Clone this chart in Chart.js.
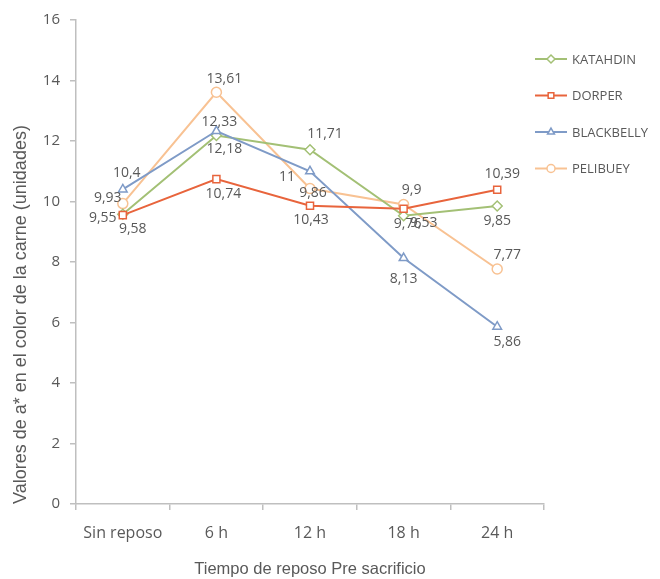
<!DOCTYPE html>
<html>
<head>
<meta charset="utf-8">
<script src="https://cdn.jsdelivr.net/npm/chart.js@4.4.1/dist/chart.umd.min.js"></script>
<style>
  html, body { margin: 0; padding: 0; background: #fff; }
  #wrap { width: 660px; height: 579px; }
</style>
</head>
<body>
<div id="wrap"><canvas id="reposo_chart"></canvas></div>
<script>
const categories = ["Sin reposo", "6 h", "12 h", "18 h", "24 h"];
const katahdin = [9.58, 12.18, 11.71, 9.53, 9.85];
const dorper = [9.55, 10.74, 9.86, 9.76, 10.39];
const blackbelly = [10.4, 12.33, 11, 8.13, 5.86];
const pelibuey = [9.93, 13.61, 10.43, 9.9, 7.77];

const text_color = "#595959";
const axis_color = "#bfbfbf";

// where each value label sits relative to its marker [dx, dy]
const label_offsets = {
  KATAHDIN: [[10, 15], [8, 13], [15, -16], [20, 7], [0, 15]],
  DORPER: [[-20, 3], [7, 15], [3, -13], [4, 15], [5, -16]],
  BLACKBELLY: [[4, -16], [3, -9], [-23, 6], [0, 21], [10, 15]],
  PELIBUEY: [[-15, -6], [8, -13], [1, 32], [8, -15], [10, -14]],
};

const make_series = (label, values, color, style) => ({
  label: label,
  data: values,
  borderColor: color,
  borderWidth: 2,
  backgroundColor: "#ffffff",
  pointStyle: style,
  pointRadius: 5,
  pointBorderWidth: 1.5,
  pointBorderColor: color,
  pointBackgroundColor: "#ffffff",
  tension: 0,
  fill: false,
});

const series = [
  make_series("KATAHDIN", katahdin, "#a3c075", "rectRot"),
  make_series("DORPER", dorper, "#e8643c", "rect"),
  make_series("BLACKBELLY", blackbelly, "#7f9bc7", "triangle"),
  make_series("PELIBUEY", pelibuey, "#f8c293", "circle"),
];
// dorper on top, like the spreadsheet layering
series[0].order = 2;
series[1].order = 0;
series[2].order = 1;
series[3].order = 3;

const value_labels = {
  id: "value_labels",
  afterDatasetsDraw(chart) {
    const ctx = chart.ctx;
    ctx.save();
    ctx.font = "14px 'Open Sans'";
    ctx.fillStyle = text_color;
    ctx.textAlign = "center";
    ctx.textBaseline = "middle";
    chart.data.datasets.forEach((ds, i) => {
      const meta = chart.getDatasetMeta(i);
      meta.data.forEach((pt, j) => {
        const off = label_offsets[ds.label][j];
        const txt = String(ds.data[j]).replace(".", ",");
        ctx.fillText(txt, pt.x + off[0], pt.y + off[1]);
      });
    });
    ctx.restore();
  },
};

// line + marker legend to the right of the plot
const side_legend = {
  id: "side_legend",
  afterDraw(chart) {
    const ctx = chart.ctx;
    const x0 = chart.chartArea.right - 9;
    ctx.save();
    ctx.font = "13px 'Open Sans'";
    ctx.textBaseline = "middle";
    ctx.textAlign = "left";
    chart.data.datasets.forEach((ds, i) => {
      const y = 59 + i * 36.5;
      ctx.strokeStyle = ds.borderColor;
      ctx.lineWidth = 2;
      ctx.beginPath();
      ctx.moveTo(x0, y);
      ctx.lineTo(x0 + 32, y);
      ctx.stroke();
      ctx.fillStyle = "#ffffff";
      ctx.lineWidth = 1.5;
      Chart.helpers.drawPoint(ctx, { pointStyle: ds.pointStyle, radius: 4, borderWidth: 1.5 }, x0 + 16, y);
      ctx.fillStyle = text_color;
      ctx.fillText(ds.label, x0 + 37, y + 1);
    });
    ctx.restore();
  },
};

const config_reposo = {
  type: "line",
  data: { labels: categories, datasets: series },
  options: {
    responsive: true,
    maintainAspectRatio: false,
    animation: false,
    layout: { padding: { top: 20, right: 116, bottom: 0, left: 0 } },
    plugins: {
      legend: { display: false },
      tooltip: { enabled: false },
    },
    scales: {
      x: {
        offset: true,
        border: { color: axis_color, width: 1.5 },
        grid: { display: true, drawOnChartArea: false, offset: true, tickLength: 6, color: axis_color, lineWidth: 1.5 },
        ticks: { color: text_color, font: { family: "'Open Sans'", size: 16 }, padding: 14 },
        title: {
          display: true,
          text: "Tiempo de reposo Pre sacrificio",
          color: text_color,
          font: { family: "'Liberation Sans', Arial", size: 16.5 },
          padding: { top: 0, bottom: 0 },
        },
        afterFit: (scale) => { scale.height = 75; },
      },
      y: {
        min: 0,
        max: 16,
        ticks: { stepSize: 2, color: text_color, font: { family: "'Open Sans'", size: 15 }, padding: 10 },
        border: { color: axis_color, width: 1.5 },
        grid: { display: true, drawOnChartArea: false, tickLength: 6, color: axis_color, lineWidth: 1.5 },
        title: {
          display: true,
          align: "start",
          text: "Valores de a* en el color de la carne (unidades)",
          color: text_color,
          font: { family: "'Liberation Sans', Arial", size: 18 },
          padding: { top: 10, bottom: 0 },
        },
        afterFit: (scale) => { scale.width = 76; },
      },
    },
  },
  plugins: [value_labels, side_legend],
};

var ctx_reposo = document.getElementById("reposo_chart");
var reposo_chart = new Chart(ctx_reposo, config_reposo);
</script>
</body>
</html>
